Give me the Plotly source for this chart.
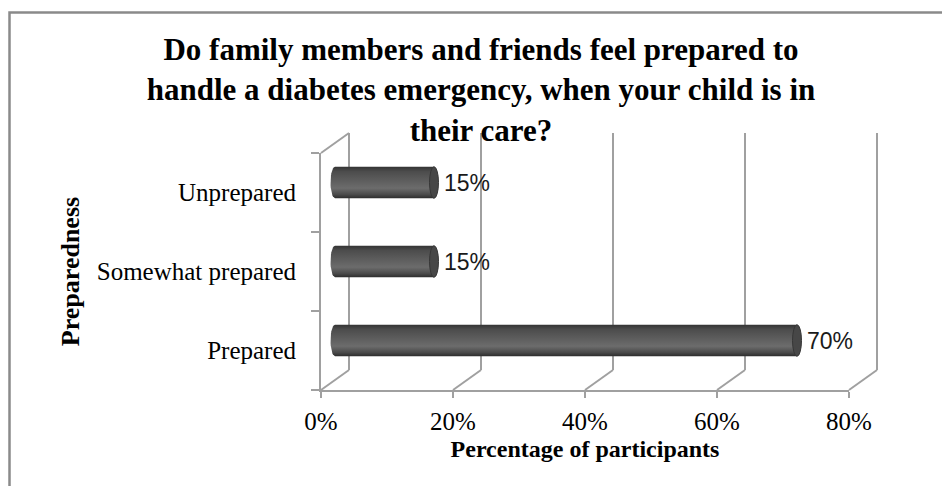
import numpy as np
import plotly.graph_objects as go

# Survey answers (share of participants, %)
categories = ["Prepared", "Somewhat prepared", "Unprepared"]
shares = [70, 15, 15]
tick_values = [0, 20, 40, 60, 80]
tick_labels = ["0%", "20%", "40%", "60%", "80%"]

TITLE = ("Do family members and friends feel prepared to<br>"
         "handle a diabetes emergency, when your child is in<br>"
         "their care?")

W, H = 942, 486
X_MAX = 80
# front plane of the 3-D frame (pixels)
FX0, FX1 = 321, 849
FY_TOP, FY_BOT = 153, 390
DX, DY = 28, 20            # depth of the frame (back wall offset)
SCALE = (FX1 - FX0) / X_MAX
GRID = "#a0a0a0"
SERIF = "Liberation Serif"


def px(x):
    return x / W


def py(y):
    return 1 - y / H


fig = go.Figure()

# invisible bars on the front axes carry the hover text and keep the axes drawn
fig.add_trace(go.Bar(
    x=shares, y=[0, 1, 2], orientation="h", width=0.4,
    marker=dict(color="rgba(0,0,0,0)", line=dict(width=0)), customdata=categories,
    hovertemplate="%{customdata}: %{x}%<extra></extra>", showlegend=False,
))

# cylinders sit halfway into the frame's depth, on their own axes pair
bar_half = 0.2
cap_w = 4.5 / SCALE
theta = np.linspace(np.pi / 2, 3 * np.pi / 2, 21)
for i, (cat, v) in enumerate(zip(categories, shares)):
    xs = list(cap_w * np.cos(theta)) + [v, v, 0]
    ys = list(i + bar_half * np.sin(theta)) + [i - bar_half, i + bar_half, i + bar_half]
    fig.add_trace(go.Scatter(
        x=xs, y=ys, xaxis="x2", yaxis="y2", mode="lines", fill="toself",
        line=dict(width=0),
        fillgradient=dict(
            type="vertical",
            colorscale=[[0, "#2c2c2c"], [0.12, "#4a4a4a"], [0.32, "#6c6c6c"],
                        [0.55, "#5e5e5e"], [0.85, "#4c4c4c"], [1, "#333333"]],
        ),
        name=cat, hoverinfo="skip", showlegend=False,
    ))
    # end cap of the cylinder
    fig.add_shape(type="circle", xref="x2", yref="y2",
                  x0=v - cap_w, x1=v + cap_w, y0=i - bar_half, y1=i + bar_half,
                  fillcolor="#474747", line=dict(color="#363636", width=1),
                  layer="above")
    fig.add_annotation(xref="x2", yref="y2", x=v, y=i, text=f"{v}%",
                       xanchor="left", yanchor="middle", xshift=cap_w * SCALE + 3,
                       showarrow=False,
                       font=dict(family="Liberation Sans", size=23, color="#1a1a1a"))

# 3-D frame: floor diagonals and back-wall gridlines
for v in tick_values:
    fx = FX0 + v * SCALE
    fig.add_shape(type="line", xref="paper", yref="paper",
                  x0=px(fx), y0=py(FY_BOT), x1=px(fx + DX), y1=py(FY_BOT - DY),
                  line=dict(color=GRID, width=2), layer="below")
    fig.add_shape(type="line", xref="paper", yref="paper",
                  x0=px(fx + DX), y0=py(FY_BOT - DY), x1=px(fx + DX), y1=py(FY_TOP - DY),
                  line=dict(color=GRID, width=2), layer="below")
# side wall top edge
fig.add_shape(type="line", xref="paper", yref="paper",
              x0=px(FX0), y0=py(FY_TOP), x1=px(FX0 + DX), y1=py(FY_TOP - DY),
              line=dict(color=GRID, width=2), layer="below")

# chart border
fig.add_shape(type="rect", xref="paper", yref="paper",
              x0=px(9.5), y0=py(12.5), x1=1.05, y1=-0.05,
              line=dict(color="#8a8a8a", width=2.5), layer="below")

fig.update_layout(
    width=W, height=H,
    margin=dict(l=0, r=0, t=0, b=0, autoexpand=False),
    paper_bgcolor="white", plot_bgcolor="rgba(0,0,0,0)",
    showlegend=False,
    title=dict(text=TITLE, x=px(481), xanchor="center", y=py(60), yanchor="middle",
               font=dict(family=SERIF, size=31, color="black", weight="bold")),
    xaxis=dict(
        domain=[px(FX0), px(FX1)], range=[0, X_MAX], anchor="y",
        tickvals=tick_values, ticktext=tick_labels,
        ticks="outside", ticklen=6, tickwidth=2, tickcolor=GRID,
        showline=True, linecolor=GRID, linewidth=2,
        showgrid=False, zeroline=False, fixedrange=True, automargin=False,
        tickfont=dict(family=SERIF, size=25, color="black"),
        ticklabelstandoff=2,
        title=dict(text="Percentage of participants", standoff=6,
                   font=dict(family=SERIF, size=24, color="black", weight="bold")),
    ),
    yaxis=dict(
        domain=[py(FY_BOT), py(FY_TOP)], range=[-0.5, 2.5], anchor="x",
        tickvals=[0, 1, 2], ticktext=categories,
        ticks="", showline=True, linecolor=GRID, linewidth=2,
        minor=dict(tickvals=[-0.5, 0.5, 1.5, 2.5], ticks="outside", ticklen=8,
                   tickwidth=2, tickcolor=GRID, showgrid=False),
        showgrid=False, zeroline=False, fixedrange=True, automargin=False,
        tickfont=dict(family=SERIF, size=25, color="black"),
        ticklabelstandoff=18,
        title=dict(text="Preparedness", standoff=10,
                   font=dict(family=SERIF, size=26, color="black", weight="bold")),
    ),
    xaxis2=dict(
        domain=[px(FX0 + DX / 2 - SCALE), px(FX1 + DX / 2)], range=[-1, X_MAX],
        anchor="y2", visible=False, fixedrange=True,
    ),
    yaxis2=dict(
        domain=[py(FY_BOT - DY / 2), py(FY_TOP - DY / 2)], range=[-0.5, 2.5],
        anchor="x2", visible=False, fixedrange=True,
    ),
)

fig.write_html("out.html")
